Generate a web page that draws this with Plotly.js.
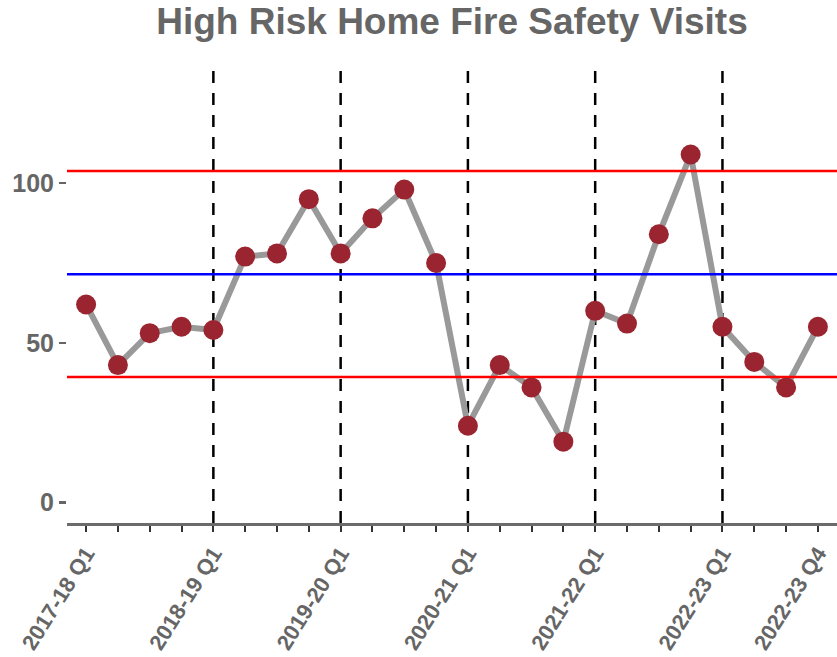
<!DOCTYPE html>
<html>
<head>
<meta charset="utf-8">
<script src="https://cdn.plot.ly/plotly-3.0.1.min.js"></script>
<style>html,body{margin:0;padding:0;background:#fff;}#chart{width:837px;height:657px;}</style>
</head>
<body>
<div id="chart"></div>
<script>
// ---- data ----
const quarters = [
  '2017-18 Q1','2017-18 Q2','2017-18 Q3','2017-18 Q4',
  '2018-19 Q1','2018-19 Q2','2018-19 Q3','2018-19 Q4',
  '2019-20 Q1','2019-20 Q2','2019-20 Q3','2019-20 Q4',
  '2020-21 Q1','2020-21 Q2','2020-21 Q3','2020-21 Q4',
  '2021-22 Q1','2021-22 Q2','2021-22 Q3','2021-22 Q4',
  '2022-23 Q1','2022-23 Q2','2022-23 Q3','2022-23 Q4'
];
const visits = [62,43,53,55,54,77,78,95,78,89,98,75,24,43,36,19,60,56,84,109,55,44,36,55];
const centreLine = 71.5;
const upperLimit = 103.8;
const lowerLimit = 39.3;
const yearStarts = ['2018-19 Q1','2019-20 Q1','2020-21 Q1','2021-22 Q1','2022-23 Q1'];
const yTicks = [0, 50, 100];

// ---- derived ----
const idx = quarters.map((q, i) => i);
const tickText = quarters.map((q, i) => (q.endsWith('Q1') || i === quarters.length - 1) ? q : '');
const xRange = [-0.6, quarters.length - 1 + 0.6];

const grey = '#666666';
const fontFam = 'Liberation Sans, Arial, sans-serif';
const traces = [
  {x: idx, y: visits, type: 'scatter', mode: 'lines',
   line: {color: '#999999', width: 6}, hoverinfo: 'skip'},
  {x: xRange, y: [upperLimit, upperLimit], type: 'scatter', mode: 'lines',
   line: {color: '#FF0000', width: 2.5}},
  {x: xRange, y: [centreLine, centreLine], type: 'scatter', mode: 'lines',
   line: {color: '#0000FF', width: 2.5}},
  {x: xRange, y: [lowerLimit, lowerLimit], type: 'scatter', mode: 'lines',
   line: {color: '#FF0000', width: 2.5}},
  {x: idx, y: visits, type: 'scatter', mode: 'markers',
   marker: {color: '#9A2530', size: 20}}
];

const shapes = yearStarts.map(q => ({
  type: 'line', xref: 'x', yref: 'paper', layer: 'below',
  x0: quarters.indexOf(q), x1: quarters.indexOf(q), y0: 0, y1: 1,
  line: {color: '#000000', width: 2.5, dash: '12px,10px'}
}));

const layout = {
  width: 837, height: 657,
  margin: {l: 67, r: 0, t: 62, b: 134, pad: 0},
  paper_bgcolor: '#ffffff', plot_bgcolor: '#ffffff',
  showlegend: false,
  title: {
    text: 'High Risk Home Fire Safety Visits',
    font: {family: fontFam, size: 37, color: grey, weight: 'bold'},
    xref: 'paper', x: 0.5, xanchor: 'center',
    yref: 'container', y: 0.988, yanchor: 'top'
  },
  xaxis: {
    range: xRange, tickmode: 'array', tickvals: idx, ticktext: tickText,
    tickangle: -58, ticks: 'outside', ticklen: 6, tickwidth: 2, tickcolor: '#333333',
    showline: true, linecolor: '#6b6b6b', linewidth: 3,
    showgrid: false, zeroline: false, automargin: false, fixedrange: true,
    tickfont: {family: fontFam, size: 22, color: grey, weight: 'bold'}
  },
  yaxis: {
    range: [-6.5, 138], tickmode: 'array', tickvals: yTicks,
    ticks: 'outside', ticklen: 7, tickwidth: 2.5, tickcolor: grey,
    showline: false, showgrid: false, zeroline: false, automargin: false, fixedrange: true,
    tickfont: {family: fontFam, size: 25, color: grey, weight: 'bold'}
  },
  shapes: shapes
};

Plotly.newPlot('chart', traces, layout, {displayModeBar: false, staticPlot: true});
</script>
</body>
</html>
